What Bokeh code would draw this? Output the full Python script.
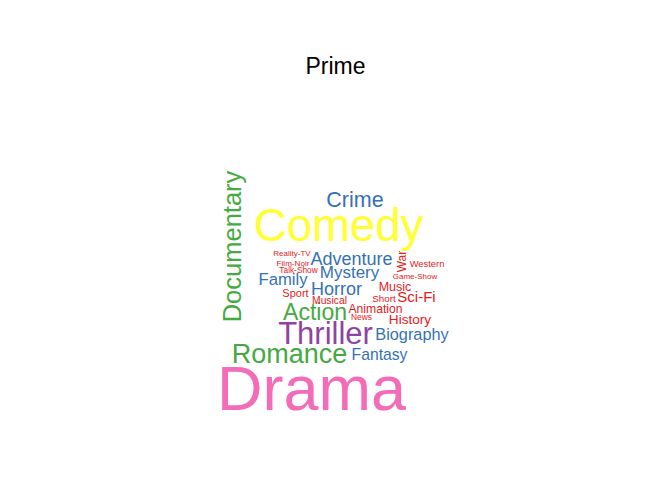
from bokeh.plotting import figure
from bokeh.models import ColumnDataSource, Label
from bokeh.embed import file_html
from bokeh.resources import INLINE
from bokeh.core.properties import value
import math

W, H = 672, 480

# Word cloud data: genre, font size (px), colour, layout position (baseline, px from top-left), rotation
genres = ["Drama", "Comedy", "Thriller", "Romance", "Documentary", "Action", "Crime",
          "Adventure", "Horror", "Mystery", "Family", "Biography", "Fantasy", "Sci-Fi",
          "History", "Music", "Animation", "War", "Sport", "Musical", "Short", "Western",
          "News", "Reality-TV", "Film-Noir", "Talk-Show", "Game-Show"]
sizes = [63, 45.5, 31, 27, 25.5, 23, 21.5,
         18, 18, 17, 16.7, 16.3, 15.7, 15,
         13.6, 12.5, 12.2, 12, 11, 10.3, 9.8, 9.4,
         8.4, 8, 8.1, 8.3, 8]
RED, BLUE, GREEN = "#E41A1C", "#3571B5", "#44AA41"
colors = ["#F46BB8", "#FFFF33", "#8E44A0", GREEN, GREEN, GREEN, BLUE,
          BLUE, BLUE, BLUE, BLUE, BLUE, BLUE, RED,
          RED, RED, RED, RED, RED, RED, RED, RED,
          RED, RED, RED, RED, RED]
pos_x = [311, 338, 325, 289, 241.5, 314.5, 354.5,
         351, 336, 349, 282.5, 411.5, 379, 416,
         409.5, 394.5, 375, 406.5, 295, 329, 383.5, 426.5,
         361, 291.5, 292.5, 298, 414.5]
pos_y = [412, 243, 345, 364, 246, 320, 208,
         265, 295, 279, 285, 340, 360, 301.5,
         324.5, 291, 313, 261, 297, 304, 302, 266.5,
         319.5, 256.5, 266.5, 273, 279]
rotated = [False, False, False, False, True, False, False,
           False, False, False, False, False, False, False,
           False, False, False, True, False, False, False, False,
           False, False, False, False, False]

title_text = "Prime"

# renderer places the glyph's baseline slightly off; compensate in proportion to font size
SHIFT = 0.385

xs, ys = [], []
for x, y, s, r in zip(pos_x, pos_y, sizes, rotated):
    if r:
        xs.append(x - SHIFT * s)
        ys.append(H - y)
    else:
        xs.append(x)
        ys.append(H - (y - SHIFT * s))

src = ColumnDataSource(dict(
    x=xs,
    y=ys,
    text=genres,
    size=[f"{s}px" for s in sizes],
    color=colors,
    angle=[math.pi / 2 if r else 0.0 for r in rotated],
))

p = figure(width=W, height=H, x_range=(0, W), y_range=(0, H),
           output_backend="svg", toolbar_location=None, min_border=0,
           background_fill_color="white", border_fill_color="white")
p.axis.visible = False
p.grid.visible = False
p.outline_line_color = None

p.text(x="x", y="y", text="text", source=src, text_font=value("Liberation Sans"),
       text_font_size="size", text_color="color", angle="angle",
       text_align="center", text_baseline="alphabetic")

p.add_layout(Label(x=335, y=H - (74 - SHIFT * 23), text=title_text, text_font="Liberation Sans",
                   text_font_size="23px", text_color="black",
                   text_align="center", text_baseline="alphabetic"))

open("out.html", "w").write(file_html(p, INLINE))
